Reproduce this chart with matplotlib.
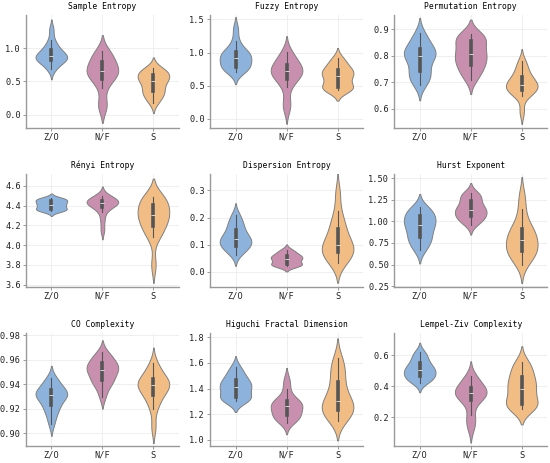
import matplotlib
matplotlib.use("Agg")
import matplotlib.pyplot as plt
from matplotlib.ticker import FormatStrFormatter
import numpy as np
import pandas as pd
import seaborn as sns

groups = ["Z/O", "N/F", "S"]
colors = ["#8db3dc", "#c98fae", "#f2bd85"]

titles = ["Sample Entropy", "Fuzzy Entropy", "Permutation Entropy",
          "Rényi Entropy", "Dispersion Entropy", "Hurst Exponent",
          "CO Complexity", "Higuchi Fractal Dimension", "Lempel-Ziv Complexity"]

# per-feature samples for each group (Z/O, N/F, S)
sample_entropy = [
    [0.68, 0.74, 0.79, 0.82, 0.83, 0.85, 0.86, 0.875, 0.89, 0.92, 0.96, 0.99, 1.04, 1.12, 1.28],
    [0.12, 0.15, 0.40, 0.52, 0.56, 0.60, 0.63, 0.65, 0.67, 0.70, 0.76, 0.82, 0.86, 0.92, 0.95],
    [0.18, 0.25, 0.30, 0.34, 0.36, 0.42, 0.47, 0.51, 0.53, 0.56, 0.59, 0.61, 0.64, 0.67, 0.70],
]
fuzzy_entropy = [
    [0.70, 0.74, 0.77, 0.78, 0.80, 0.86, 0.89, 0.915, 0.94, 0.97, 1.00, 1.02, 1.07, 1.18, 1.36],
    [0.16, 0.25, 0.48, 0.58, 0.62, 0.66, 0.69, 0.715, 0.73, 0.76, 0.80, 0.83, 0.88, 0.95, 1.015],
    [0.43, 0.45, 0.46, 0.47, 0.49, 0.56, 0.61, 0.65, 0.67, 0.70, 0.73, 0.75, 0.80, 0.86, 0.915],
]
permutation_entropy = [
    [0.69, 0.71, 0.72, 0.735, 0.747, 0.77, 0.79, 0.80, 0.805, 0.81, 0.82, 0.83, 0.845, 0.865, 0.885],
    [0.71, 0.73, 0.75, 0.76, 0.772, 0.785, 0.797, 0.806, 0.815, 0.83, 0.848, 0.86, 0.868, 0.876, 0.882],
    [0.59, 0.648, 0.66, 0.667, 0.673, 0.68, 0.686, 0.691, 0.697, 0.703, 0.715, 0.725, 0.74, 0.76, 0.779],
]
renyi_entropy = [
    [4.34, 4.35, 4.36, 4.362, 4.368, 4.39, 4.40, 4.41, 4.42, 4.43, 4.445, 4.455, 4.46, 4.47, 4.475],
    [4.15, 4.25, 4.33, 4.37, 4.40, 4.41, 4.42, 4.425, 4.43, 4.44, 4.445, 4.455, 4.47, 4.48, 4.50],
    [3.80, 4.08, 4.12, 4.17, 4.21, 4.25, 4.28, 4.30, 4.32, 4.35, 4.39, 4.43, 4.46, 4.48, 4.49],
]
dispersion_entropy = [
    [0.064, 0.08, 0.09, 0.095, 0.099, 0.11, 0.117, 0.121, 0.127, 0.135, 0.15, 0.162, 0.175, 0.19, 0.211],
    [0.021, 0.024, 0.026, 0.027, 0.029, 0.038, 0.044, 0.049, 0.051, 0.054, 0.058, 0.062, 0.068, 0.075, 0.082],
    [0.031, 0.045, 0.055, 0.068, 0.076, 0.085, 0.093, 0.10, 0.11, 0.125, 0.15, 0.168, 0.185, 0.223, 0.29],
]
hurst_exponent = [
    [0.665, 0.72, 0.77, 0.81, 0.83, 0.88, 0.93, 0.96, 0.98, 1.00, 1.04, 1.075, 1.10, 1.13, 1.165],
    [0.96, 1.00, 1.03, 1.05, 1.065, 1.09, 1.12, 1.135, 1.15, 1.17, 1.21, 1.25, 1.28, 1.31, 1.33],
    [0.50, 0.58, 0.62, 0.645, 0.663, 0.70, 0.75, 0.79, 0.81, 0.85, 0.89, 0.93, 1.00, 1.14, 1.30],
]
co_complexity = [
    [0.908, 0.915, 0.919, 0.922, 0.925, 0.928, 0.930, 0.9315, 0.932, 0.933, 0.934, 0.936, 0.939, 0.942, 0.945],
    [0.930, 0.937, 0.941, 0.943, 0.944, 0.948, 0.950, 0.9517, 0.953, 0.954, 0.956, 0.958, 0.960, 0.963, 0.966],
    [0.905, 0.920, 0.926, 0.930, 0.933, 0.936, 0.938, 0.9396, 0.940, 0.941, 0.943, 0.945, 0.948, 0.952, 0.957],
]
higuchi_fd = [
    [1.30, 1.31, 1.32, 1.33, 1.342, 1.37, 1.40, 1.414, 1.42, 1.435, 1.455, 1.477, 1.50, 1.53, 1.57],
    [1.134, 1.16, 1.175, 1.185, 1.195, 1.22, 1.245, 1.26, 1.27, 1.28, 1.295, 1.305, 1.33, 1.40, 1.47],
    [1.147, 1.18, 1.20, 1.225, 1.241, 1.26, 1.28, 1.30, 1.33, 1.37, 1.42, 1.48, 1.53, 1.58, 1.64],
]
lempel_ziv = [
    [0.42, 0.435, 0.45, 0.458, 0.466, 0.48, 0.495, 0.504, 0.51, 0.52, 0.54, 0.554, 0.575, 0.60, 0.62],
    [0.13, 0.175, 0.217, 0.30, 0.318, 0.33, 0.345, 0.355, 0.36, 0.37, 0.38, 0.394, 0.42, 0.44, 0.466],
    [0.253, 0.265, 0.275, 0.283, 0.291, 0.33, 0.36, 0.383, 0.40, 0.42, 0.445, 0.469, 0.50, 0.53, 0.557],
]

features = [sample_entropy, fuzzy_entropy, permutation_entropy,
            renyi_entropy, dispersion_entropy, hurst_exponent,
            co_complexity, higuchi_fd, lempel_ziv]

yticks = [
    [0.0, 0.5, 1.0],
    [0.0, 0.5, 1.0, 1.5],
    [0.6, 0.7, 0.8, 0.9],
    [3.6, 3.8, 4.0, 4.2, 4.4, 4.6],
    [0.0, 0.1, 0.2, 0.3],
    [0.25, 0.50, 0.75, 1.00, 1.25, 1.50],
    [0.90, 0.92, 0.94, 0.96, 0.98],
    [1.0, 1.2, 1.4, 1.6, 1.8],
    [0.2, 0.4, 0.6],
]
ylims = [(-0.2, 1.5), (-0.135, 1.57), (0.529, 0.954),
         (3.578, 4.72), (-0.055, 0.361), (0.242, 1.55),
         (0.8898, 0.9819), (0.953, 1.834), (0.015, 0.743)]
fmts = ["%.1f", "%.1f", "%.1f", "%.1f", "%.1f", "%.2f", "%.2f", "%.1f", "%.1f"]

plt.rcParams["font.family"] = ["DejaVu Sans Mono"]

fig, axes = plt.subplots(3, 3, figsize=(5.5, 4.63), dpi=100)
fig.subplots_adjust(left=0.047, right=0.995, top=0.968, bottom=0.037,
                    wspace=0.203, hspace=0.407)

for i, ax in enumerate(axes.flat):
    rows = []
    for g, vals in zip(groups, features[i]):
        for v in vals:
            rows.append((g, v))
    df = pd.DataFrame(rows, columns=["group", "value"])
    sns.violinplot(data=df, x="group", y="value", hue="group", order=groups,
                   hue_order=groups, palette=colors, saturation=1, legend=False,
                   density_norm="width", width=0.62, bw_adjust=0.85, cut=2,
                   linewidth=0.7, linecolor="#7f7f7f", inner="box",
                   inner_kws=dict(box_width=2.6, whis_width=0.8, color="#555555"),
                   ax=ax)
    ax.set_title(titles[i], fontsize=5.8, pad=4)
    ax.set_xlabel("")
    ax.set_ylabel("")
    ax.set_xlim(-0.5, 2.5)
    ax.set_ylim(*ylims[i])
    ax.set_yticks(yticks[i])
    ax.yaxis.set_major_formatter(FormatStrFormatter(fmts[i]))
    ax.tick_params(labelsize=6.2, length=2, width=0.6, color="#888888", pad=1.5,
                   labelcolor="#222222")
    ax.grid(True, color="#ececec", lw=0.6)
    ax.set_axisbelow(True)
    for s in ["top", "right"]:
        ax.spines[s].set_visible(False)
    for s in ["left", "bottom"]:
        ax.spines[s].set_color("#999999")
        ax.spines[s].set_linewidth(1.0)

fig.savefig("out.png", dpi=100)
